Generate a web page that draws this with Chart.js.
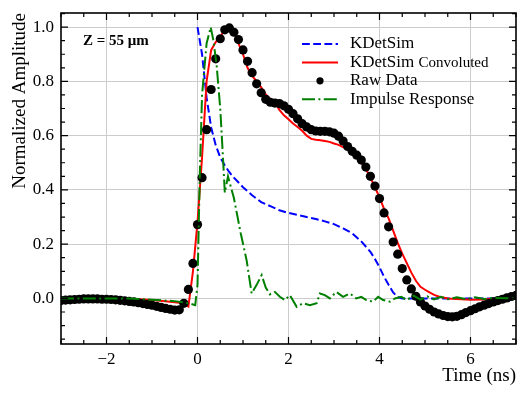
<!DOCTYPE html>
<html>
<head>
<meta charset="utf-8">
<script src="https://cdn.jsdelivr.net/npm/chart.js@4.4.1/dist/chart.umd.min.js"></script>
<style>html,body{margin:0;padding:0;background:#fff}canvas{display:block}</style>
</head>
<body>
<canvas id="c" width="529" height="399"></canvas>
<script>
/* KDetSim vs raw data, Z = 55 um */
const xTicks=[-2,0,2,4,6];
const yTicks=[0,0.2,0.4,0.6,0.8,1.0];

// raw data, one sample every 0.1 ns
const rawT=[-3,-2.9,-2.8,-2.7,-2.6,-2.5,-2.4,-2.3,-2.2,-2.1,-2,-1.9,-1.8,-1.7,-1.6,-1.5,-1.4,-1.3,-1.2,-1.1,
  -1,-0.9,-0.8,-0.7,-0.6,-0.5,-0.4,-0.3,-0.2,-0.1,0,0.1,0.2,0.3,0.4,0.5,0.6,0.7,0.8,0.9,
  1,1.1,1.2,1.3,1.4,1.5,1.6,1.7,1.8,1.9,2,2.1,2.2,2.3,2.4,2.5,2.6,2.7,2.8,2.9,
  3,3.1,3.2,3.3,3.4,3.5,3.6,3.7,3.8,3.9,4,4.1,4.2,4.3,4.4,4.5,4.6,4.7,4.8,4.9,
  5,5.1,5.2,5.3,5.4,5.5,5.6,5.7,5.8,5.9,6,6.1,6.2,6.3,6.4,6.5,6.6,6.7,6.8,6.9,7];
const rawY=[-0.008,-0.006,-0.005,-0.004,-0.003,-0.002,-0.002,-0.002,-0.002,-0.003,
  -0.003,-0.004,-0.005,-0.007,-0.009,-0.011,-0.013,-0.016,-0.019,-0.022,
  -0.025,-0.029,-0.033,-0.037,-0.040,-0.043,-0.042,-0.018,0.033,0.129,
  0.272,0.445,0.622,0.770,0.883,0.957,0.990,0.997,0.981,0.954,
  0.916,0.874,0.832,0.791,0.758,0.734,0.723,0.720,0.718,0.710,
  0.697,0.681,0.662,0.644,0.632,0.622,0.617,0.616,0.616,0.614,
  0.609,0.598,0.580,0.560,0.542,0.528,0.510,0.484,0.450,0.414,
  0.368,0.315,0.264,0.208,0.163,0.110,0.068,0.035,0.008,-0.013,
  -0.028,-0.040,-0.050,-0.057,-0.063,-0.067,-0.068,-0.066,-0.060,-0.052,
  -0.045,-0.038,-0.031,-0.025,-0.019,-0.013,-0.008,-0.003,0.002,0.007,
  0.011];

// KDetSim convoluted
const convT=[-3,-1.4,-1.0,-0.6,-0.4,-0.3,-0.2,-0.1,
  0,0.1,0.2,0.3,0.4,0.5,0.6,0.7,0.8,0.9,1.0,1.1,1.2,1.3,1.4,1.5,1.6,1.7,1.8,1.9,
  2.0,2.1,2.2,2.3,2.4,2.5,2.6,2.7,2.8,2.9,3.0,3.1,3.2,3.3,3.4,3.5,3.6,3.7,3.8,3.9,
  4.0,4.1,4.2,4.3,4.4,4.5,4.6,4.7,4.8,4.9,5.0,5.1,5.2,5.3,5.5,6.0,6.3,6.6,7.0];
const convY=[0,-0.002,-0.006,-0.012,-0.016,-0.019,-0.03,0.10,
  0.28,0.52,0.80,0.915,0.945,0.965,0.99,0.998,0.98,0.94,0.90,0.85,0.82,0.80,0.778,0.752,0.735,0.722,0.695,0.675,
  0.66,0.645,0.632,0.618,0.60,0.588,0.585,0.583,0.58,0.577,0.571,0.566,0.558,0.55,0.54,0.522,0.50,0.478,0.445,0.41,
  0.372,0.33,0.295,0.25,0.205,0.165,0.13,0.095,0.065,0.043,0.032,0.022,0.013,0.007,0.0,-0.005,-0.004,0.0,0.0];

// KDetSim (no convolution)
const simT=[0,0.1,0.2,0.3,0.4,0.5,0.6,0.7,0.8,1.0,1.2,1.4,1.6,1.8,2.0,2.2,2.4,2.6,2.8,3.0,3.2,3.4,3.6,3.8,
  3.9,4.0,4.1,4.2,4.3,4.4,4.5,7.0];
const simY=[1.0,0.90,0.74,0.63,0.565,0.52,0.49,0.465,0.445,0.41,0.38,0.355,0.34,0.325,0.315,0.308,0.30,0.293,0.284,0.274,0.258,0.24,0.21,0.172,
  0.145,0.115,0.08,0.05,0.022,0.005,0.0,0.0];

// impulse response
const impT=[-3,-1.5,-1.0,-0.5,-0.3,-0.15,-0.05,
  0,0.05,0.1,0.2,0.29,0.35,0.42,0.5,0.55,0.6,0.67,0.8,0.95,
  1.08,1.19,1.3,1.41,1.5,1.59,1.7,1.81,1.92,2.03,
  2.18,2.32,2.47,2.62,2.69,2.8,2.91,3.05,3.2,3.35,
  3.49,3.6,3.71,3.86,3.97,4.08,4.23,4.34,4.48,4.6,
  4.75,4.9,5.05,5.2,5.35,5.5,5.7,5.9,6.1,6.3,6.5,7.0];
const impY=[0,0,-0.005,-0.01,-0.015,-0.02,-0.025,
  0.05,0.45,0.75,0.94,1.0,0.95,0.86,0.70,0.55,0.39,0.45,0.37,0.24,
  0.14,0.018,0.05,0.086,0.04,0.015,0.024,0.006,-0.006,0.012,
  -0.031,-0.018,-0.025,-0.018,0.018,0.012,0.0,0.024,0.006,0.018,
  0.0,0.006,-0.006,-0.012,0.006,-0.006,-0.012,0.0,0.006,-0.006,
  0.01,-0.004,0.008,-0.004,0.006,-0.003,0.004,-0.003,0.004,-0.002,0.002,0.0];

const pts=(t,y)=>t.map((v,i)=>({x:v,y:y[i]}));
const SERIF='"Liberation Serif","Times New Roman",serif';
Chart.defaults.font.family=SERIF;
Chart.defaults.color='#000';

// box, inward ticks on all sides, legend and the Z label
const frameTicks={
  id:'frameTicks',
  afterDatasetsDraw(chart){
    const {ctx,chartArea:a,scales:{x,y}}=chart;
    ctx.save();
    ctx.strokeStyle='#000';
    ctx.lineWidth=1.2;
    ctx.beginPath();
    for(let i=0;i<=20;i++){
      const v=-3+i*0.5, px=x.getPixelForValue(v), len=xTicks.includes(v)?7:4;
      ctx.moveTo(px,a.bottom);ctx.lineTo(px,a.bottom-len);
      ctx.moveTo(px,a.top);ctx.lineTo(px,a.top+len);
    }
    for(let i=-3;i<=21;i++){
      const py=y.getPixelForValue(i*0.05), len=i%4===0?7:4;
      ctx.moveTo(a.left,py);ctx.lineTo(a.left+len,py);
      ctx.moveTo(a.right,py);ctx.lineTo(a.right-len,py);
    }
    ctx.stroke();
    ctx.lineWidth=1.6;
    ctx.strokeRect(a.left,a.top,a.right-a.left,a.bottom-a.top);

    // legend
    const lx=302,lw=36,tx=350;
    chart.data.datasets.forEach((d,i)=>{
      const ly=44+i*18.4;
      if(d.showLine===false){
        ctx.fillStyle=d.backgroundColor;
        ctx.beginPath();ctx.arc(lx+lw/2,ly,3.6,0,Math.PI*2);ctx.fill();
      }else{
        ctx.strokeStyle=d.borderColor;ctx.lineWidth=d.borderWidth;
        ctx.setLineDash(d.borderDash||[]);
        ctx.beginPath();ctx.moveTo(lx,ly);ctx.lineTo(lx+lw,ly);ctx.stroke();
        ctx.setLineDash([]);
      }
      ctx.fillStyle='#000';ctx.textBaseline='middle';ctx.textAlign='left';
      const parts=d.label.split(' ');
      if(d.smallTail){
        ctx.font='17px '+SERIF;
        ctx.fillText(parts[0],tx,ly);
        const w=ctx.measureText(parts[0]+' ').width;
        ctx.font='15px '+SERIF;
        ctx.fillText(parts.slice(1).join(' '),tx+w,ly+0.5);
      }else{
        ctx.font='17px '+SERIF;
        ctx.fillText(d.label,tx,ly);
      }
    });

    ctx.font='bold 15px '+SERIF;
    ctx.fillText('Z = 55 \u03bcm',83,41);
    ctx.restore();
  }
};

new Chart(document.getElementById('c'),{
  type:'scatter',
  data:{datasets:[
    {label:'KDetSim',data:pts(simT,simY),showLine:true,borderColor:'#0000ff',borderWidth:2,borderDash:[7.8,3.4],pointRadius:0,order:3},
    {label:'KDetSim Convoluted',smallTail:true,data:pts(convT,convY),showLine:true,borderColor:'#ff0000',borderWidth:2,pointRadius:0,order:2},
    {label:'Raw Data',data:pts(rawT,rawY),showLine:false,backgroundColor:'#000',borderWidth:0,pointRadius:4.6,order:1},
    {label:'Impulse Response',data:pts(impT,impY),showLine:true,borderColor:'#008000',borderWidth:2,borderDash:[13,3.4,2,3.4],pointRadius:0,order:0}
  ]},
  options:{
    responsive:false,animation:false,devicePixelRatio:1,
    layout:{padding:{top:13,right:13,left:0,bottom:0}},
    plugins:{legend:{display:false},tooltip:{enabled:false}},
    scales:{
      x:{type:'linear',min:-3,max:7,
        afterBuildTicks:s=>{s.ticks=xTicks.map(v=>({value:v}));},
        afterFit:s=>{s.height=55;s.paddingLeft=0;s.paddingRight=0;},
        grid:{color:'#cccccc',lineWidth:1,drawTicks:false},
        border:{display:false},
        ticks:{color:'#000',font:{size:17},padding:5,maxRotation:0,callback:v=>v<0?'\u2212'+(-v):String(v)},
        title:{display:true,text:'Time (ns)',align:'end',color:'#000',font:{size:19},padding:{top:0,bottom:12}}
      },
      y:{type:'linear',min:-0.168,max:1.052,
        afterBuildTicks:s=>{s.ticks=yTicks.map(v=>({value:v}));},
        afterFit:s=>{s.width=61;s.paddingTop=0;s.paddingBottom=0;},
        grid:{color:'#cccccc',lineWidth:1,drawTicks:false},
        border:{display:false},
        ticks:{color:'#000',font:{size:17},padding:7,callback:v=>v.toFixed(1)},
        title:{display:true,text:'Normalized Amplitude',align:'end',color:'#000',font:{size:19},padding:{top:9,bottom:0}}
      }
    }
  },
  plugins:[frameTicks]
});
</script>
</body>
</html>
